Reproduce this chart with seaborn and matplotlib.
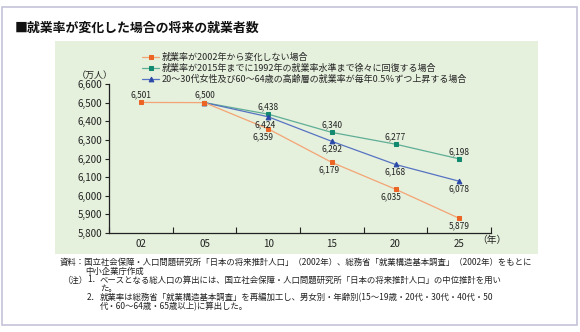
import matplotlib
matplotlib.use("Agg")
import matplotlib.pyplot as plt
from matplotlib.patches import Rectangle
from matplotlib.ticker import FixedLocator, FuncFormatter
import seaborn as sns
import pandas as pd

# ---- data -------------------------------------------------------------
years = ["02", "05", "10", "15", "20", "25"]

constant_rate = [6501, 6500, 6359, 6179, 6035, 5879]          # 就業率が2002年から変化しない
recover_years = ["05", "10", "15", "20", "25"]
recover_1992 = [6500, 6438, 6340, 6277, 6198]                  # 1992年水準まで回復
rising_years = ["05", "10", "15", "20", "25"]
rising_rate = [6500, 6424, 6292, 6168, 6078]                   # 女性・高齢層の就業率上昇

series_names = [
    "就業率が2002年から変化しない場合",
    "就業率が2015年までに1992年の就業率水準まで徐々に回復する場合",
    "20〜30代女性及び60〜64歳の高齢層の就業率が毎年0.5％ずつ上昇する場合",
]

title = "■就業率が変化した場合の将来の就業者数"
y_unit = "（万人）"
x_unit = "（年）"
notes = [
    "資料：国立社会保障・人口問題研究所「日本の将来推計人口」（2002年）、総務省「就業構造基本調査」（2002年）をもとに",
    "中小企業庁作成",
    "（注）",
    "1．",
    "ベースとなる総人口の算出には、国立社会保障・人口問題研究所「日本の将来推計人口」の中位推計を用い",
    "た。",
    "2．",
    "就業率は総務省「就業構造基本調査」を再編加工し、男女別・年齢別(15〜19歳・20代・30代・40代・50",
    "代・60〜64歳・65歳以上)に算出した。",
]

# ---- style ------------------------------------------------------------
sns.set_style("ticks")
plt.rcParams["font.family"] = ["Noto Sans CJK JP", "DejaVu Sans"]
plt.rcParams["axes.unicode_minus"] = False

PANEL = "#e5f0dd"
BORDER = "#c3c3d9"
styles = [
    dict(line="#f4a474", mark="#ec6424", marker="s", ms=3.2),
    dict(line="#5fae95", mark="#128a70", marker="s", ms=3.2),
    dict(line="#5673c2", mark="#2a48a8", marker="^", ms=3.4),
]

fig = plt.figure(figsize=(5.8, 3.32), dpi=100)
fig.patch.set_facecolor("white")

# outer frame and green chart panel
fig.add_artist(Rectangle((2 / 580, 1 - 325 / 332), 575 / 580, 318 / 332,
                         transform=fig.transFigure, facecolor="white",
                         edgecolor=BORDER, linewidth=1.2, zorder=-2))
fig.add_artist(Rectangle((55 / 580, 1 - 254 / 332), 483 / 580, 213 / 332,
                         transform=fig.transFigure, facecolor=PANEL,
                         edgecolor="none", zorder=-1))

ax = fig.add_axes([109 / 580, 1 - 233 / 332, 382 / 580, 149 / 332])
ax.set_facecolor("none")

frames = [
    pd.DataFrame({"year": years, "value": constant_rate}),
    pd.DataFrame({"year": recover_years, "value": recover_1992}),
    pd.DataFrame({"year": rising_years, "value": rising_rate}),
]
zorders = [5, 3, 4]
for df, name, st, z in zip(frames, series_names, styles, zorders):
    sns.lineplot(data=df, x="year", y="value", ax=ax, color=st["line"],
                 marker=st["marker"], markersize=st["ms"],
                 markerfacecolor=st["mark"], markeredgecolor=st["mark"],
                 linewidth=0.9, label=name, legend=False, zorder=z,
                 sort=False)


def put_labels(xs, vals, where, dxs):
    """Write each value next to its marker, above or below it."""
    for x, v, w, dx in zip(xs, vals, where, dxs):
        up = w == "above"
        ax.annotate(f"{v:,}", (x, v), xytext=(dx, 2.2 if up else -2.2),
                    textcoords="offset points", ha="center",
                    va="bottom" if up else "top", fontsize=6.0,
                    color="#222222", zorder=6)


put_labels(years, constant_rate,
           ["above", "above", "below", "below", "below", "below"],
           [0, 0, -4, -2, -3, 0])
# the shared 2005 starting point is labelled once, with the first series
put_labels(recover_years[1:], recover_1992[1:],
           ["above", "above", "above", "above"],
           [0, 0, 0, 0])
put_labels(rising_years[1:], rising_rate[1:],
           ["below", "below", "below", "below"],
           [-2, 0, 0, 0])

# axes
ax.set_xlim(-0.5, 5.5)
ax.set_ylim(5800, 6600)
ax.set_yticks(range(5800, 6601, 100))
ax.yaxis.set_major_formatter(FuncFormatter(lambda v, _: f"{int(v):,}"))
ax.set_xlabel("")
ax.set_ylabel("")
ax.tick_params(axis="y", direction="out", length=3, width=0.8,
               labelsize=7, colors="#222222", pad=2)
ax.tick_params(axis="x", which="major", length=0, labelsize=7,
               colors="#222222", pad=4)
ax.xaxis.set_minor_locator(FixedLocator([i - 0.5 for i in range(7)]))
ax.tick_params(axis="x", which="minor", direction="in", length=4,
               width=0.8, color="#222222")
for side in ("top", "right"):
    ax.spines[side].set_visible(False)
for side in ("left", "bottom"):
    ax.spines[side].set_color("#222222")
    ax.spines[side].set_linewidth(0.9)

# units
fig.text(95 / 580, 1 - 75 / 332, y_unit, ha="center", va="center",
         fontsize=6.5, color="#222222")
fig.text(492 / 580, 1 - 240 / 332, x_unit, ha="center", va="center",
         fontsize=7, color="#222222")

# legend
handles, labels = ax.get_legend_handles_labels()
order = [labels.index(n) for n in series_names]
ax.legend([handles[i] for i in order], [labels[i] for i in order],
          loc="upper left", bbox_to_anchor=(142 / 580, 1 - 53 / 332),
          bbox_transform=fig.transFigure, frameon=False, fontsize=6.5,
          handlelength=1.9, handletextpad=0.3, labelspacing=0.2,
          borderpad=0, borderaxespad=0, numpoints=1)

# title
fig.text(15 / 580, 1 - 28 / 332, title, ha="left", va="center",
         fontsize=9.3, fontweight="bold", color="#111111")

# notes below the chart
note_fs = 6.05
note_pos = [
    (60, 262), (85, 271), (62, 280), (87, 280), (100, 280), (100, 289),
    (87, 298), (100, 298), (100, 307),
]
for txt, (px, py) in zip(notes, note_pos):
    fig.text(px / 580, 1 - py / 332, txt, ha="left", va="center",
             fontsize=note_fs, color="#222222")

fig.savefig("out.png", dpi=100, facecolor="white")
